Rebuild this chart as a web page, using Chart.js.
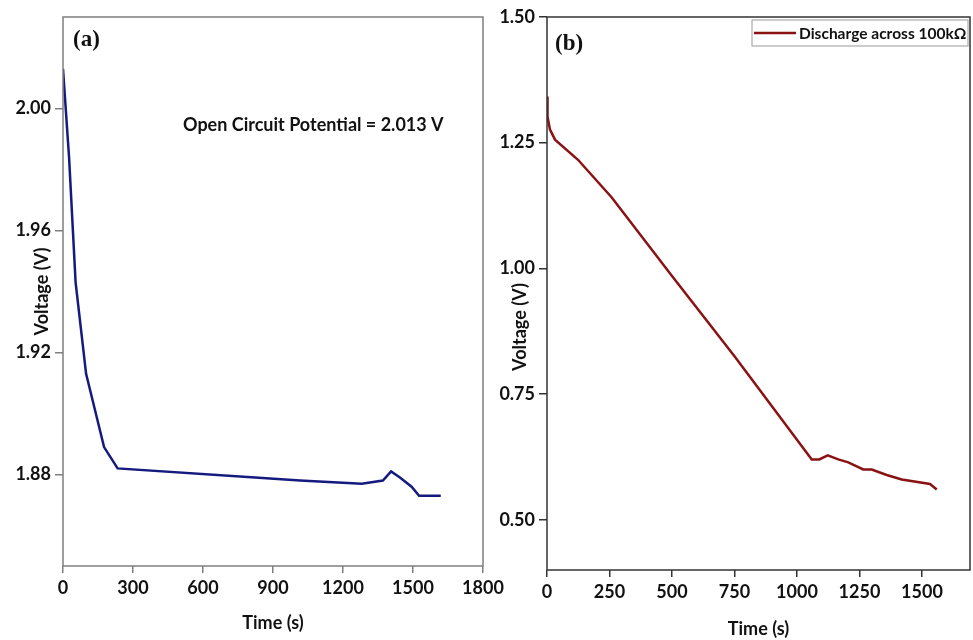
<!DOCTYPE html>
<html>
<head>
<meta charset="utf-8">
<script src="https://cdn.jsdelivr.net/npm/chart.js@4.4.1/dist/chart.umd.min.js"></script>
<style>
  body { margin: 0; background: #fff; }
  #wrap { position: relative; width: 973px; height: 640px; overflow: hidden; }
  canvas { position: absolute; top: 0; }
  #chartA { left: 0; }
  #chartB { left: 480px; }
</style>
</head>
<body>
<div id="wrap">
  <canvas id="chartA" width="520" height="640"></canvas>
  <canvas id="chartB" width="493" height="640"></canvas>
</div>
<script>
// panel (a) - open circuit potential
const timeA = [0, 26, 54, 99, 176, 234, 823, 1016, 1280, 1371, 1406, 1444, 1494, 1526, 1619];
const voltA = [2.013, 1.984, 1.943, 1.913, 1.889, 1.882, 1.879, 1.878, 1.877, 1.878, 1.881, 1.879, 1.876, 1.873, 1.873];
const xTicksA = [0, 300, 600, 900, 1200, 1500, 1800];
const yTicksA = [1.88, 1.92, 1.96, 2.00];

// panel (b) - discharge across 100k resistor
const timeB = [0, 2, 12, 32, 124, 259, 500, 750, 1059, 1089, 1123, 1165, 1205, 1265, 1299, 1359, 1419, 1532, 1559];
const voltB = [1.342, 1.302, 1.276, 1.256, 1.216, 1.141, 0.985, 0.825, 0.620, 0.620, 0.628, 0.620, 0.614, 0.600, 0.600, 0.589, 0.580, 0.571, 0.560];
const xTicksB = [0, 250, 500, 750, 1000, 1250, 1500];
const yTicksB = [0.50, 0.75, 1.00, 1.25, 1.50];

const labelA = '(a)';
const labelB = '(b)';
const noteA = 'Open Circuit Potential = 2.013 V';
const seriesB = 'Discharge across 100k\u03A9';
const yTitle = 'Voltage (V)';

const sans = 'Lato, "Open Sans", sans-serif';

// draws box around plot, panel letter and extra text
const panelPlugin = {
  id: 'panel',
  afterDraw(chart, args, opts) {
    const ctx = chart.ctx;
    const a = chart.chartArea;
    ctx.save();
    ctx.strokeStyle = opts.boxColor;
    ctx.lineWidth = 1.5;
    ctx.strokeRect(a.left, a.top, a.right - a.left, a.bottom - a.top);

    ctx.fillStyle = '#111';
    ctx.font = 'bold 23px "Liberation Serif", "Times New Roman", serif';
    ctx.textBaseline = 'middle';
    ctx.textAlign = 'left';
    ctx.fillText(opts.letter, a.left + opts.letterDx, a.top + opts.letterDy);

    if (opts.note) {
      ctx.font = 'bold 18px ' + sans;
      ctx.fillText(opts.note, a.left + opts.noteDx, a.top + opts.noteDy);
    }

    if (opts.legend) {
      const ds = chart.data.datasets[0];
      const x0 = a.right - 218, y0 = a.top + 3, w = 216, h = 26;
      ctx.strokeStyle = '#999';
      ctx.lineWidth = 1;
      ctx.strokeRect(x0, y0, w, h);
      ctx.strokeStyle = ds.borderColor;
      ctx.lineWidth = 2.5;
      ctx.beginPath();
      ctx.moveTo(x0 + 2, y0 + h / 2);
      ctx.lineTo(x0 + 44, y0 + h / 2);
      ctx.stroke();
      ctx.fillStyle = '#111';
      ctx.font = 'bold 15.5px ' + sans;
      ctx.fillText(ds.label, x0 + 47, y0 + h / 2 + 1);
    }

    // y title drawn by hand where the reference puts it (between two tick labels)
    if (opts.yTitleY) {
      ctx.translate(40, opts.yTitleY);
      ctx.rotate(-Math.PI / 2);
      ctx.textAlign = 'center';
      ctx.font = 'bold 18px ' + sans;
      ctx.fillText(yTitle, 0, 0);
    }
    ctx.restore();
  }
};

function makeScales(xTicks, yTicks, xmin, xmax, ymin, ymax, axisColor, yWidth) {
  return {
    x: {
      type: 'linear',
      min: xmin,
      max: xmax,
      afterBuildTicks: s => { s.ticks = xTicks.map(v => ({ value: v })); },
      afterFit: s => { s.height = 640 - 566; },
      ticks: {
        color: '#111',
        font: { family: sans, size: 18, weight: 'bold' },
        padding: 4,
        maxRotation: 0,
        autoSkip: false,
        callback: v => String(v)
      },
      grid: { drawOnChartArea: false, tickLength: 7, color: axisColor, lineWidth: 1.5 },
      border: { display: false },
      title: {
        display: true,
        text: 'Time (s)',
        color: '#111',
        font: { family: sans, size: 18, weight: 'bold' },
        padding: { top: 0, bottom: 6 }
      }
    },
    y: {
      type: 'linear',
      min: ymin,
      max: ymax,
      afterBuildTicks: s => { s.ticks = yTicks.map(v => ({ value: v })); },
      afterFit: s => { s.width = yWidth; },
      ticks: {
        color: '#111',
        font: { family: sans, size: 18, weight: 'bold' },
        padding: 4,
        callback: v => v.toFixed(2)
      },
      grid: { drawOnChartArea: false, tickLength: 8, color: axisColor, lineWidth: 1.5 },
      border: { display: false },
      title: {
        display: true,
        text: yTitle,
        color: '#111',
        font: { family: sans, size: 18, weight: 'bold' },
        padding: { top: 31, bottom: 0 }
      }
    }
  };
}

new Chart(document.getElementById('chartA'), {
  type: 'line',
  data: {
    datasets: [{
      label: 'OCP',
      data: timeA.map((t, i) => ({ x: t, y: voltA[i] })),
      borderColor: '#151a7e',
      borderWidth: 2.5,
      pointRadius: 0,
      tension: 0
    }]
  },
  options: {
    responsive: false,
    animation: false,
    devicePixelRatio: 1,
    layout: { padding: { left: 0, top: 17, right: 37, bottom: 0 } },
    scales: makeScales(xTicksA, yTicksA, 0, 1800, 1.85, 2.03, '#7f7f7f', 63),
    plugins: {
      legend: { display: false },
      tooltip: { enabled: false },
      panel: { boxColor: '#7f7f7f', letter: labelA, letterDx: 10, letterDy: 23, note: noteA, noteDx: 120, noteDy: 108 }
    }
  },
  plugins: [panelPlugin]
});

const scB = makeScales(xTicksB, yTicksB, 0, 1692, 0.40, 1.50, '#333', 67);
scB.x.afterFit = s => { s.height = 640 - 570; };
scB.x.title.padding = { top: 0, bottom: 0 };
scB.y.title.display = false;

new Chart(document.getElementById('chartB'), {
  type: 'line',
  data: {
    datasets: [{
      label: seriesB,
      data: timeB.map((t, i) => ({ x: t, y: voltB[i] })),
      borderColor: '#8a1212',
      borderWidth: 2.5,
      pointRadius: 0,
      tension: 0
    }]
  },
  options: {
    responsive: false,
    animation: false,
    devicePixelRatio: 1,
    layout: { padding: { left: 0, top: 17, right: 3, bottom: 0 } },
    scales: scB,
    plugins: {
      legend: { display: false },
      tooltip: { enabled: false },
      panel: { boxColor: '#333', letter: labelB, letterDx: 8, letterDy: 27, legend: true, yTitleY: 327 }
    }
  },
  plugins: [panelPlugin]
});
</script>
</body>
</html>
